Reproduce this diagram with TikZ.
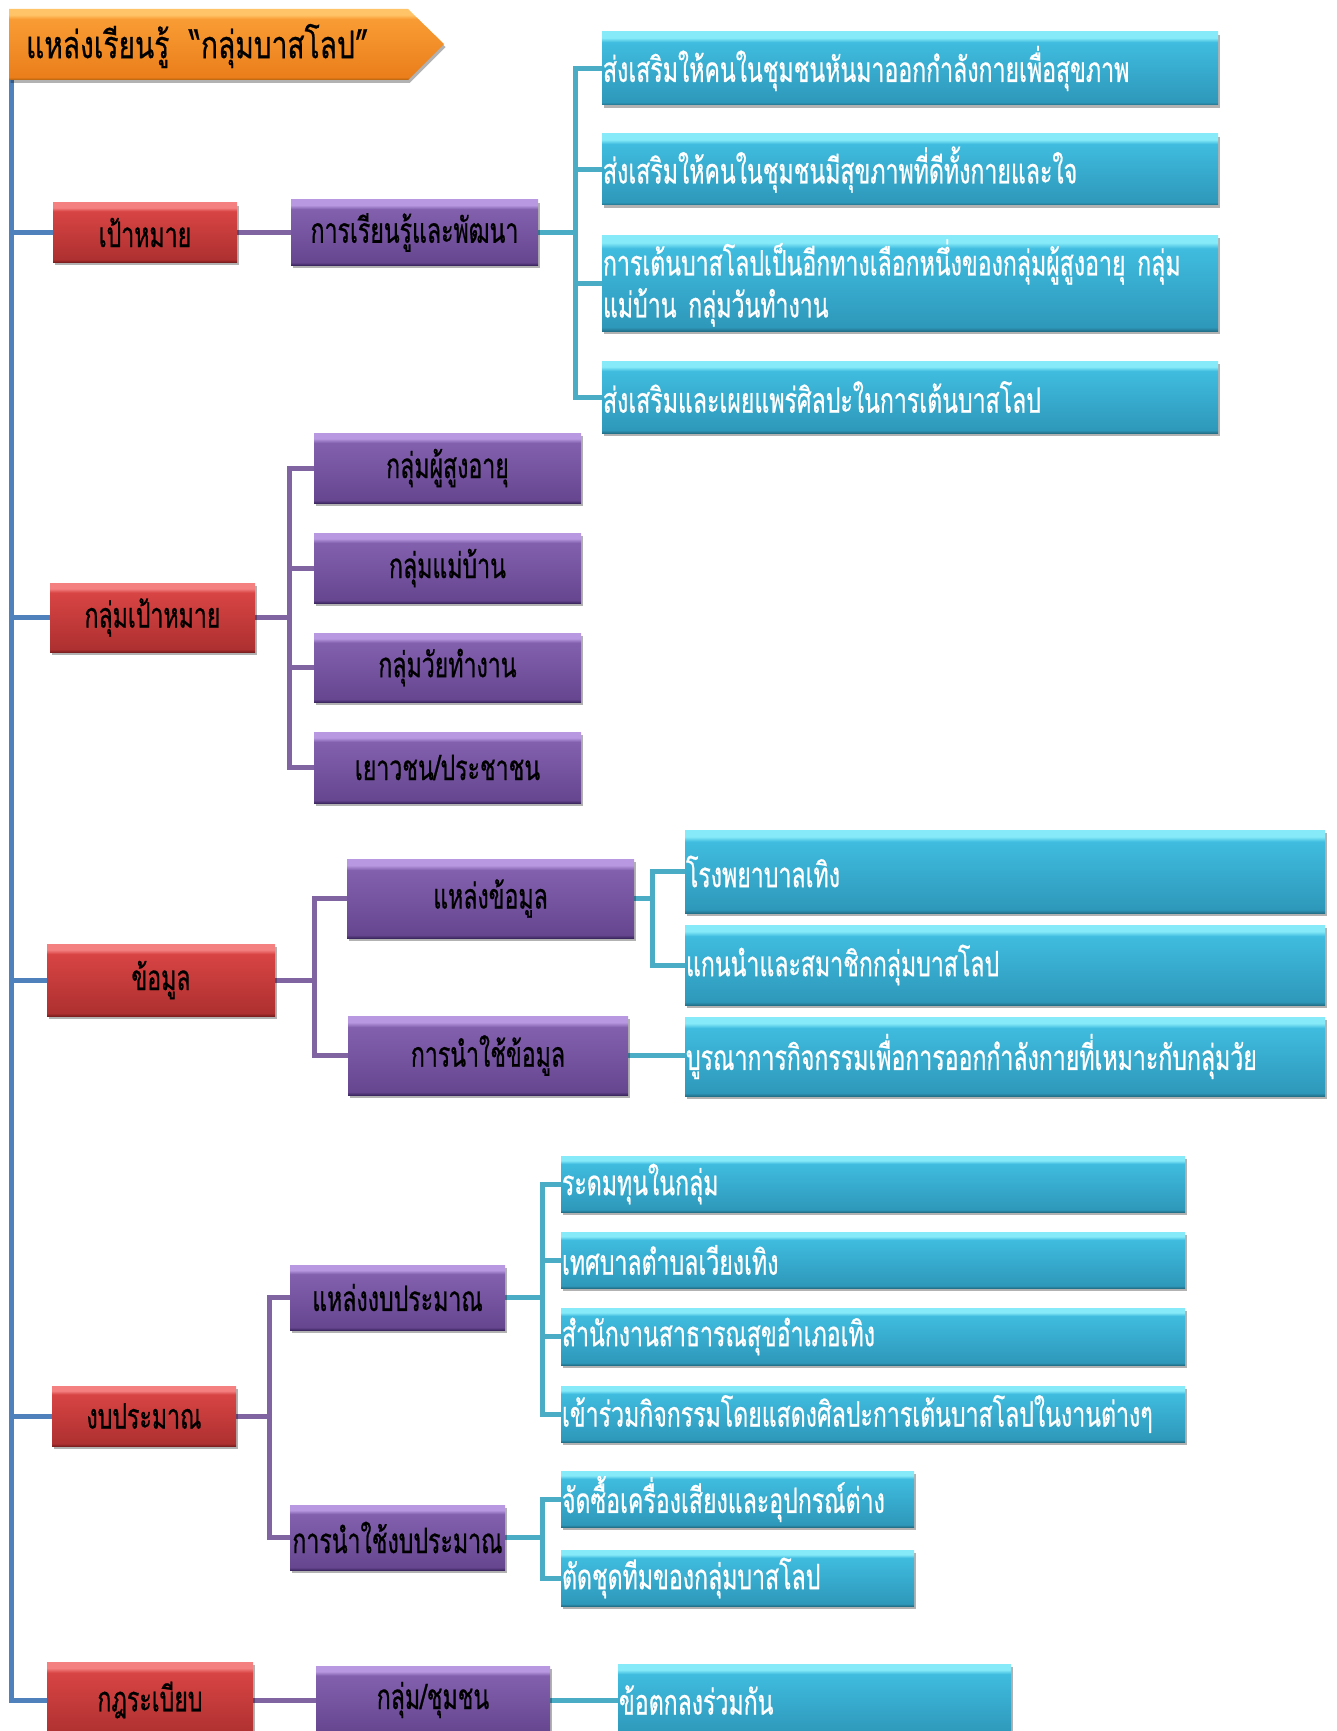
\documentclass[tikz,border=0pt]{standalone}
\usepackage{fontspec}
\newfontfamily\thai[Script=Thai,FakeStretch=0.66,FakeBold=0.6]{Loma}
\newfontfamily\thaiB[Script=Thai,FakeStretch=0.74,FakeBold=0.6]{Loma}
\usetikzlibrary{shadows}
\definecolor{cyE}{HTML}{23728C}
\definecolor{cyB}{HTML}{2E98BA}
\definecolor{cyT}{HTML}{3FBCDF}
\definecolor{cyL}{HTML}{86EAF8}
\definecolor{rdE}{HTML}{7E1E1E}
\definecolor{rdB}{HTML}{AE3030}
\definecolor{rdT}{HTML}{D84444}
\definecolor{rdL}{HTML}{F48080}
\definecolor{ppE}{HTML}{3E2862}
\definecolor{ppB}{HTML}{674690}
\definecolor{ppT}{HTML}{8260AE}
\definecolor{ppL}{HTML}{B898E0}
\definecolor{orE}{HTML}{B0600E}
\definecolor{orB}{HTML}{EA7E1A}
\definecolor{orT}{HTML}{F99C34}
\definecolor{orL}{HTML}{FFC468}
\definecolor{lineB}{HTML}{4F81BD}
\definecolor{lineP}{HTML}{8064A2}
\definecolor{lineC}{HTML}{4BACC6}
\pgfdeclareverticalshading{cybev}{100bp}{color(0bp)=(cyE); color(25bp)=(cyE); color(27bp)=(cyB); color(68bp)=(cyT); color(71bp)=(cyL); color(75bp)=(cyL); color(100bp)=(cyL)}
\pgfdeclareverticalshading{rdbev}{100bp}{color(0bp)=(rdE); color(25bp)=(rdE); color(27bp)=(rdB); color(68bp)=(rdT); color(71bp)=(rdL); color(75bp)=(rdL); color(100bp)=(rdL)}
\pgfdeclareverticalshading{ppbev}{100bp}{color(0bp)=(ppE); color(25bp)=(ppE); color(27bp)=(ppB); color(68bp)=(ppT); color(71bp)=(ppL); color(75bp)=(ppL); color(100bp)=(ppL)}
\pgfdeclareverticalshading{orbev}{100bp}{color(0bp)=(orE); color(25bp)=(orE); color(27bp)=(orB); color(68bp)=(orT); color(71bp)=(orL); color(75bp)=(orL); color(100bp)=(orL)}
\pgfdeclarelayer{bg}
\pgfsetlayers{bg,main}
\tikzset{
  box/.style={rectangle, inner sep=0pt, outer sep=0pt, anchor=north west,
    drop shadow={shadow xshift=1.5pt, shadow yshift=-3pt, opacity=.3, fill=black}},
  redbox/.style={box, shading=rdbev, text=black, align=center, font=\thai\fontsize{35}{40}\selectfont},
  purbox/.style={box, shading=ppbev, text=black, align=center, font=\thai\fontsize{35}{40}\selectfont},
  cybox/.style={box, shading=cybev, text=white, align=left, inner xsep=1pt, font=\thai\fontsize{35}{42}\selectfont},
  bline/.style={draw=lineB, line width=5pt},
  pline/.style={draw=lineP, line width=5pt},
  cline/.style={draw=lineC, line width=5pt},
}
\begin{document}
\begin{tikzpicture}[x=1pt,y=-1pt]
\useasboundingbox (0,0) rectangle (1337,1731);
% banner
\path[shading=orbev, drop shadow={shadow xshift=1.5pt, shadow yshift=-3pt, opacity=.3, fill=black}]
  (9,9) -- (408,9) -- (444,44) -- (408,80) -- (9,80) -- cycle;
\node[anchor=west, inner sep=0pt, font=\thaiB\fontsize{38}{40}\selectfont] (banner) at (26,46) {แหล่งเรียนรู้\hspace{20pt}“กลุ่มบาสโลป”};
\coordinate (mtop) at (11,80);
% level 1
\node[redbox, minimum width=184, minimum height=59] (goal) at (53,203) {เป้าหมาย};
\node[redbox, minimum width=205, minimum height=69] (target) at (50,583) {กลุ่มเป้าหมาย};
\node[redbox, minimum width=228, minimum height=72] (data) at (47,944) {ข้อมูล};
\node[redbox, minimum width=184, minimum height=60] (budget) at (52,1386) {งบประมาณ};
\node[redbox, minimum width=206, minimum height=76] (rules) at (47,1662) {กฎระเบียบ};
% level 2
\node[purbox, minimum width=247, minimum height=65] (learn) at (291,200) {การเรียนรู้และพัฒนา};
\node[purbox, minimum width=267, minimum height=70] (elder) at (314,433) {กลุ่มผู้สูงอายุ};
\node[purbox, minimum width=267, minimum height=70] (house) at (314,533) {กลุ่มแม่บ้าน};
\node[purbox, minimum width=267, minimum height=69] (work) at (314,633) {กลุ่มวัยทำงาน};
\node[purbox, minimum width=267, minimum height=71] (youth) at (314,732) {เยาวชน/ประชาชน};
\node[purbox, minimum width=287, minimum height=79] (dsrc) at (347,859) {แหล่งข้อมูล};
\node[purbox, minimum width=280, minimum height=79] (duse) at (348,1016) {การนำใช้ข้อมูล};
\node[purbox, minimum width=215, minimum height=65] (bsrc) at (290,1265) {แหล่งงบประมาณ};
\node[purbox, minimum width=215, minimum height=65] (buse) at (290,1505) {การนำใช้งบประมาณ};
\node[purbox, minimum width=234, minimum height=68] (comm) at (316,1666) {กลุ่ม/ชุมชน};
% level 3
\node[cybox, minimum width=616, minimum height=73, text width=614] (g1) at (602,32) {ส่งเสริมให้คนในชุมชนหันมาออกกำลังกายเพื่อสุขภาพ};
\node[cybox, minimum width=616, minimum height=71, text width=614] (g2) at (602,134) {ส่งเสริมให้คนในชุมชนมีสุขภาพที่ดีทั้งกายและใจ};
\node[cybox, minimum width=616, minimum height=96, text width=614] (g3) at (602,235) {การเต้นบาสโลปเป็นอีกทางเลือกหนึ่งของกลุ่มผู้สูงอายุ กลุ่ม\\แม่บ้าน กลุ่มวันทำงาน};
\node[cybox, minimum width=616, minimum height=72, text width=614] (g4) at (602,361) {ส่งเสริมและเผยแพร่ศิลปะในการเต้นบาสโลป};
\node[cybox, minimum width=640, minimum height=83, text width=638] (ds1) at (685,830) {โรงพยาบาลเทิง};
\node[cybox, minimum width=640, minimum height=80, text width=638] (ds2) at (685,925) {แกนนำและสมาชิกกลุ่มบาสโลป};
\node[cybox, minimum width=640, minimum height=79, text width=638] (du1) at (685,1017) {บูรณาการกิจกรรมเพื่อการออกกำลังกายที่เหมาะกับกลุ่มวัย};
\node[cybox, minimum width=624, minimum height=56, text width=622] (b1) at (561,1156) {ระดมทุนในกลุ่ม};
\node[cybox, minimum width=624, minimum height=56, text width=622] (b2) at (561,1232) {เทศบาลตำบลเวียงเทิง};
\node[cybox, minimum width=624, minimum height=57, text width=622] (b3) at (561,1308) {สำนักงานสาธารณสุขอำเภอเทิง};
\node[cybox, minimum width=624, minimum height=56, text width=622] (b4) at (561,1386) {เข้าร่วมกิจกรรมโดยแสดงศิลปะการเต้นบาสโลปในงานต่างๆ};
\node[cybox, minimum width=353, minimum height=56, text width=351] (u1) at (561,1471) {จัดซื้อเครื่องเสียงและอุปกรณ์ต่าง};
\node[cybox, minimum width=353, minimum height=56, text width=351] (u2) at (561,1550) {ตัดชุดทีมของกลุ่มบาสโลป};
\node[cybox, minimum width=393, minimum height=72, text width=391] (r1) at (618,1664) {ข้อตกลงร่วมกัน};
% connectors
\begin{pgfonlayer}{bg}
\fill[white] (0,0) rectangle (1337,1731);
\foreach \n in {goal,target,data,budget,rules} \draw[bline] (mtop) |- (\n.west);
\draw[pline] (goal.east) -- (learn.west);
\foreach \n in {elder,house,work,youth} \draw[pline] (target.east) -- ++(34,0) |- (\n.west);
\foreach \n in {dsrc,duse} \draw[pline] (data.east) -- ++(39,0) |- (\n.west);
\foreach \n in {bsrc,buse} \draw[pline] (budget.east) -- ++(33,0) |- (\n.west);
\draw[pline] (rules.east) -- (rules.east -| comm.west);
\foreach \n in {g1,g2,g3,g4} \draw[cline] (learn.east) -- ++(37,0) |- (\n.west);
\foreach \n in {ds1,ds2} \draw[cline] (dsrc.east) -- ++(18,0) |- (\n.west);
\draw[cline] (duse.east) -- (duse.east -| du1.west);
\foreach \n in {b1,b2,b3,b4} \draw[cline] (bsrc.east) -- ++(37,0) |- (\n.west);
\foreach \n in {u1,u2} \draw[cline] (buse.east) -- ++(37,0) |- (\n.west);
\draw[cline] (comm.east) -- (comm.east -| r1.west);
\end{pgfonlayer}
\end{tikzpicture}
\end{document}
